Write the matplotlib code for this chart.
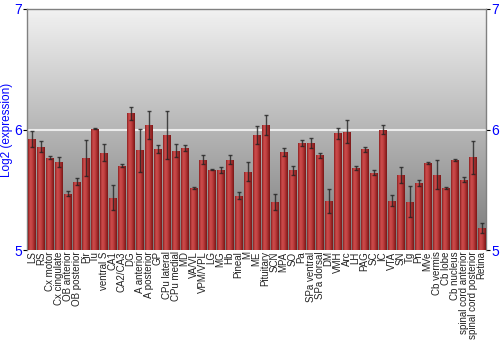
"""Bar chart of log2 expression per brain region."""

import numpy as np
import matplotlib
matplotlib.use('Agg')
import matplotlib.pyplot as plt
from matplotlib.colors import LinearSegmentedColormap

regions = ['LS', 'RS', 'Cx motor', 'Cx cingulate', 'OB anterior', 'OB posterior',
           'Pir', 'Tu', 'ventral S', 'CA1', 'CA2/CA3', 'DG', 'A anterior',
           'A posterior', 'GP', 'CPu lateral', 'CPu medial', 'MD', 'VA/VL',
           'VPM/VPL', 'LG', 'MG', 'Hb', 'Pineal', 'M', 'ME', 'Pituitary', 'SCN',
           'MPA', 'SO', 'Pa', 'SPa ventral', 'SPa dorsal', 'DM', 'VMH', 'Arc',
           'LH', 'PAG', 'SC', 'IC', 'VTA', 'SN', 'Tg', 'Pn', 'MVe', 'Cb vermis',
           'Cb lobe', 'Cb nucleus', 'spinal cord anterior',
           'spinal cord posterior', 'Retina']

expression = [5.922, 5.858, 5.767, 5.73, 5.467, 5.567,
              5.767, 6.008, 5.806, 5.433, 5.70, 6.133, 5.828,
              6.039, 5.839, 5.956, 5.825, 5.847, 5.514,
              5.75, 5.667, 5.667, 5.75, 5.45, 5.65, 5.953, 6.04, 5.397,
              5.815, 5.661, 5.886, 5.886, 5.786, 5.406, 5.967, 5.983,
              5.681, 5.836, 5.642, 5.997, 5.408, 5.622, 5.40, 5.558, 5.722, 5.625,
              5.517, 5.747, 5.583,
              5.769, 5.183]

errors = [0.065, 0.045, 0.01, 0.04, 0.02, 0.03,
          0.15, 0.005, 0.07, 0.105, 0.01, 0.057, 0.18,
          0.117, 0.03, 0.2, 0.057, 0.024, 0.005,
          0.035, 0.005, 0.024, 0.037, 0.028, 0.08, 0.074, 0.083, 0.064,
          0.035, 0.04, 0.025, 0.043, 0.022, 0.1, 0.047, 0.092,
          0.018, 0.02, 0.022, 0.037, 0.046, 0.067, 0.13, 0.025, 0.005, 0.12,
          0.008, 0.007, 0.02,
          0.135, 0.04]

y_ticks = [5, 6, 7]

plt.rcParams['font.family'] = ['Liberation Sans', 'DejaVu Sans']

fig = plt.figure(figsize=(5, 3.5), dpi=100)
ax = fig.add_axes([0.0546, 0.2857, 0.9174, 0.6886])

x = np.arange(len(regions))
ax.set_xlim(-0.5, len(regions) - 0.5)
ax.set_ylim(5, 7)

# gray vertical gradient behind the bars (light at top)
bg = np.linspace(0, 1, 256).reshape(-1, 1)
bg_cmap = LinearSegmentedColormap.from_list('bg', ['#f2f2f2', '#7a7a7a'])
ax.imshow(bg, extent=[-0.5, len(regions) - 0.5, 5, 7], aspect='auto',
          cmap=bg_cmap, origin='upper', zorder=0)

ax.axhline(6, color='#ececec', lw=1.5, zorder=1)

bars = ax.bar(x, np.array(expression) - 5, bottom=5, width=0.86,
              color='#b83636', zorder=2)

# horizontal shading on each bar
bar_cmap = LinearSegmentedColormap.from_list(
    'bar', ['#8a2020', '#cc4a4a', '#c44444', '#a42c2c', '#781616'])
shade = np.linspace(0, 1, 64).reshape(1, -1)
for b in bars:
    x0, w, h = b.get_x(), b.get_width(), b.get_height()
    im = ax.imshow(shade, extent=[x0, x0 + w, 5, 5 + h], aspect='auto',
                   cmap=bar_cmap, zorder=3)
    im.set_clip_path(b)

ax.errorbar(x, expression, yerr=errors, fmt='none', ecolor='#222222',
            elinewidth=1.0, capsize=1.6, capthick=1.0, alpha=0.8, zorder=4)

ax.set_xticks(x)
ax.set_xticklabels(regions, rotation=90, fontsize=7, color='#222222')
ax.tick_params(axis='x', length=0, pad=1)

ax.set_yticks(y_ticks)
ax.set_yticklabels([str(t) for t in y_ticks])
ax.tick_params(axis='y', which='both', left=True, right=True,
               labelleft=True, labelright=True, length=3,
               color='black', labelcolor='blue', labelsize=10, pad=1)

ax.set_ylabel('Log2 (expression)', color='blue', fontsize=8.5, labelpad=1)

for side in ['left', 'right', 'top']:
    ax.spines[side].set_color('#808080')
    ax.spines[side].set_linewidth(1.0)
ax.spines['bottom'].set_visible(False)

fig.savefig('out.png', dpi=100)
